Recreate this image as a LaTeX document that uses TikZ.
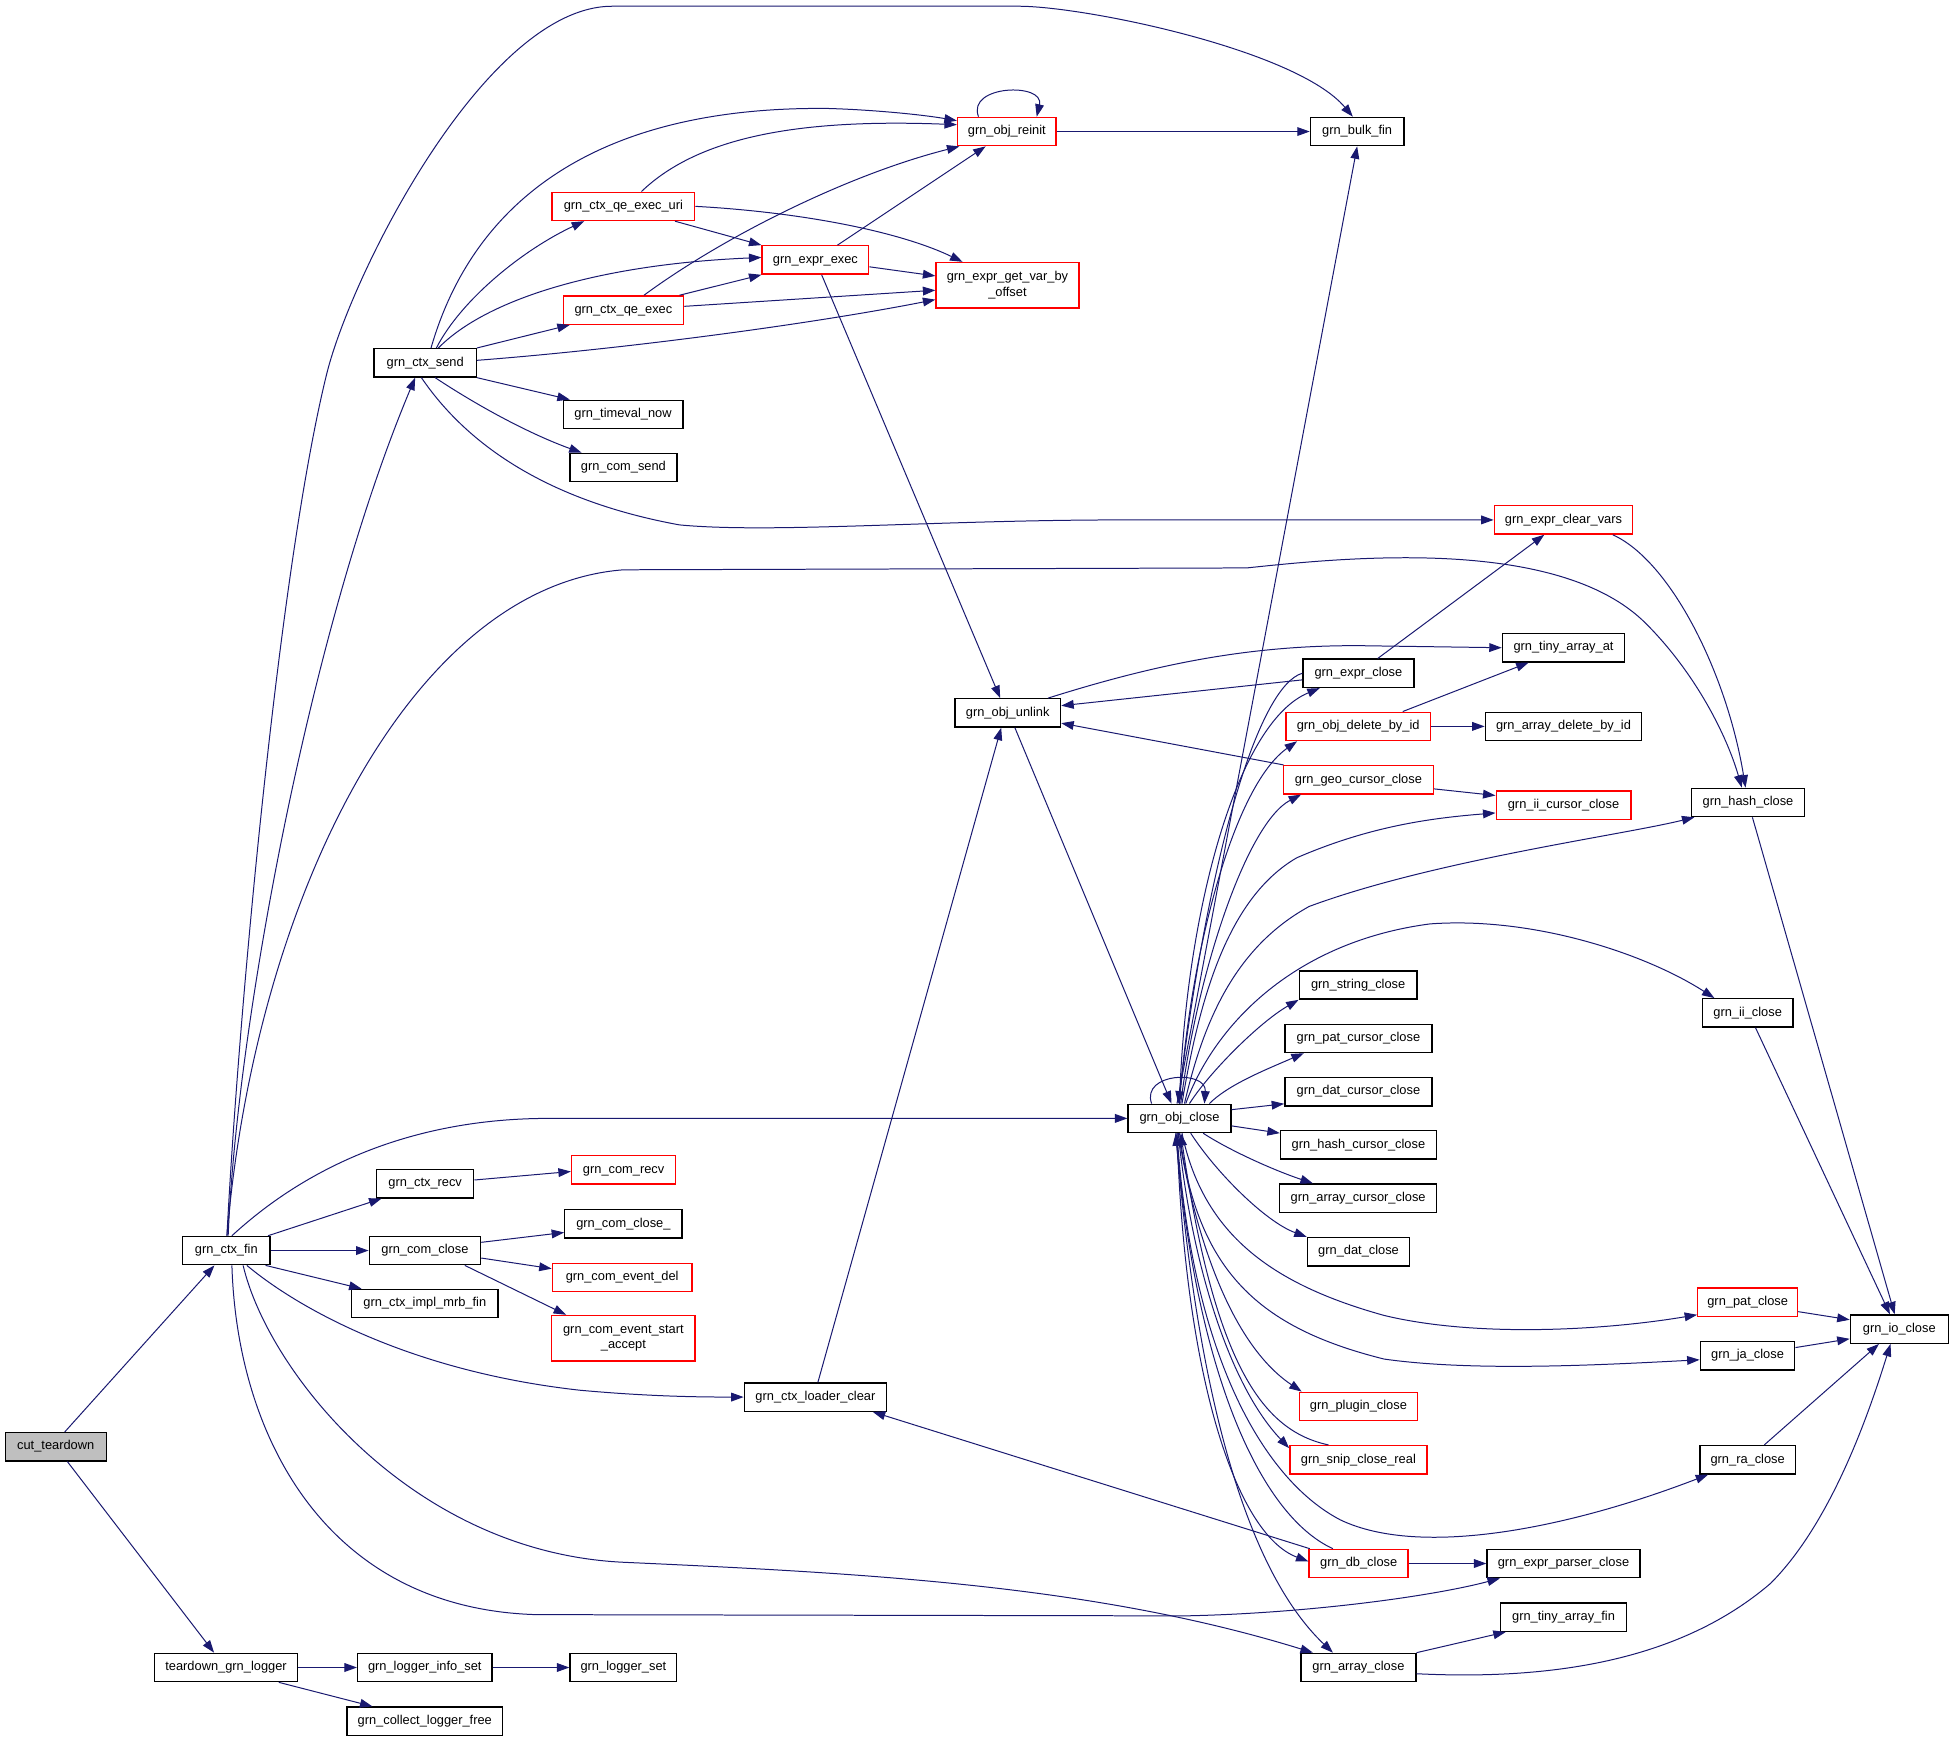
\documentclass[tikz,border=0pt]{standalone}
\usepackage{fontspec}
\setmainfont{Liberation Sans}
\usetikzlibrary{arrows.meta,calc}
\definecolor{edgec}{HTML}{191970}
\definecolor{cutfill}{HTML}{BFBFBF}
\begin{document}
\begin{tikzpicture}[x=1pt,y=-1pt,
  box/.style={draw=black, fill=white, line width=1.1pt, inner sep=0pt, minimum height=22.7pt,
    font=\fontsize{10.3}{12.6}\selectfont, text height=7.4pt, text depth=2.2pt},
  rbox/.style={box, draw=red},
  rtbox/.style={draw=red, fill=white, line width=1.1pt, inner sep=0pt, minimum height=36.5pt,
    align=center, font=\fontsize{10.3}{12.6}\selectfont},
  e/.style={draw=edgec, line width=0.8pt, -{Triangle[length=10pt,width=7pt]}}]
\fill[white] (0,0) rectangle (1568,1396.4);
\useasboundingbox (0,0) rectangle (1568,1396.4);
% nodes
\node[box, fill=cutfill, minimum width=81pt] (cut) at (44.7,1160.3) {cut\_teardown};
\node[box, minimum width=70pt] (ctxfin) at (181.5,1003) {grn\_ctx\_fin};
\node[box, minimum width=114.6pt] (tdlog) at (181.3,1337.4) {teardown\_grn\_logger};
\node[box, minimum width=107.7pt] (loginfo) at (340.7,1337.4) {grn\_logger\_info\_set};
\node[box, minimum width=85.6pt] (logset) at (500,1337.4) {grn\_logger\_set};
\node[box, minimum width=124.7pt] (collect) at (340.7,1380.5) {grn\_collect\_logger\_free};
\node[box, minimum width=82pt] (ctxsend) at (341,291) {grn\_ctx\_send};
\node[box, minimum width=96pt] (timeval) at (499.7,332.4) {grn\_timeval\_now};
\node[box, minimum width=85.7pt] (comsend) at (500,375) {grn\_com\_send};
\node[rbox, minimum width=114.5pt] (qeuri) at (500,165.5) {grn\_ctx\_qe\_exec\_uri};
\node[rbox, minimum width=96.5pt] (qeexec) at (500,248.7) {grn\_ctx\_qe\_exec};
\node[rbox, minimum width=85.5pt] (exprexec) at (654,208.5) {grn\_expr\_exec};
\node[rbox, minimum width=79pt] (reinit) at (807.5,105.5) {grn\_obj\_reinit};
\node[rtbox, minimum width=114.5pt] (getvar) at (808,228.8) {grn\_expr\_get\_var\_by\\\_offset};
\node[box, minimum width=75pt] (bulkfin) at (1088.5,105.5) {grn\_bulk\_fin};
\node[rbox, minimum width=111pt] (clearvars) at (1254,417) {grn\_expr\_clear\_vars};
\node[box, minimum width=84.8pt] (unlink) at (808.2,571.8) {grn\_obj\_unlink};
\node[box, minimum width=98pt] (tinyat) at (1254,519.5) {grn\_tiny\_array\_at};
\node[box, minimum width=89pt] (exprclose) at (1089.5,540) {grn\_expr\_close};
\node[rbox, minimum width=116pt] (delbyid) at (1089.3,582.6) {grn\_obj\_delete\_by\_id};
\node[box, minimum width=125.4pt] (arrdel) at (1254,582.6) {grn\_array\_delete\_by\_id};
\node[rbox, minimum width=120pt] (geocur) at (1089.5,625.4) {grn\_geo\_cursor\_close};
\node[rbox, minimum width=108pt] (iicur) at (1254,645.7) {grn\_ii\_cursor\_close};
\node[box, minimum width=91pt] (hashclose) at (1402,643.6) {grn\_hash\_close};
\node[box, minimum width=94.5pt] (strclose) at (1089.3,790) {grn\_string\_close};
\node[box, minimum width=72.6pt] (iiclose) at (1401.7,812.4) {grn\_ii\_close};
\node[box, minimum width=118pt] (patcur) at (1089.5,832.8) {grn\_pat\_cursor\_close};
\node[box, minimum width=118pt] (datcur) at (1089.5,875.6) {grn\_dat\_cursor\_close};
\node[box, minimum width=82.4pt] (objclose) at (946,897) {grn\_obj\_close};
\node[box, minimum width=125pt] (hashcur) at (1089.5,918.3) {grn\_hash\_cursor\_close};
\node[box, minimum width=126pt] (arrcur) at (1089.3,961) {grn\_array\_cursor\_close};
\node[box, minimum width=82pt] (datclose) at (1089.6,1003.9) {grn\_dat\_close};
\node[rbox, minimum width=80pt] (patclose) at (1401.7,1044.5) {grn\_pat\_close};
\node[box, minimum width=78.5pt] (ioclose) at (1523.3,1066) {grn\_io\_close};
\node[box, minimum width=75.8pt] (jaclose) at (1401.6,1087.3) {grn\_ja\_close};
\node[rbox, minimum width=95pt] (plugin) at (1089.5,1128) {grn\_plugin\_close};
\node[rbox, minimum width=110pt] (snip) at (1089.5,1170.8) {grn\_snip\_close\_real};
\node[box, minimum width=76.7pt] (raclose) at (1401.7,1170.8) {grn\_ra\_close};
\node[rbox, minimum width=79.4pt] (dbclose) at (1089.7,1254) {grn\_db\_close};
\node[box, minimum width=122.6pt] (parser) at (1254,1254) {grn\_expr\_parser\_close};
\node[box, minimum width=100.6pt] (tinyfin) at (1254,1297) {grn\_tiny\_array\_fin};
\node[box, minimum width=92.2pt] (arrclose) at (1089.5,1337.4) {grn\_array\_close};
\node[box, minimum width=78pt] (ctxrecv) at (341,949.4) {grn\_ctx\_recv};
\node[rbox, minimum width=83.6pt] (comrecv) at (500.2,938.3) {grn\_com\_recv};
\node[box, minimum width=89.3pt] (comclose) at (340.8,1003) {grn\_com\_close};
\node[box, minimum width=94pt] (comclose2) at (500,981.5) {grn\_com\_close\_};
\node[rbox, minimum width=112pt] (evdel) at (499,1024.5) {grn\_com\_event\_del};
\node[box, minimum width=117.6pt] (mrbfin) at (340.7,1045.5) {grn\_ctx\_impl\_mrb\_fin};
\node[rtbox, minimum width=115pt] (evaccept) at (500,1073.3) {grn\_com\_event\_start\\\_accept};
\node[box, minimum width=114pt] (loader) at (654,1120.5) {grn\_ctx\_loader\_clear};
% edges: cut_teardown
\draw[e] ($(cut.north)+(7.3,0)$) -- ($(ctxfin.south)+(-9.5,0)$);
\draw[e] ($(cut.south)+(9.3,0)$) -- ($(tdlog.north)+(-9.6,0)$);
\draw[e] (tdlog.east) -- (loginfo.west);
\draw[e] ($(tdlog.south)+(42.3,0)$) -- ($(collect.north)+(-42,0)$);
\draw[e] (loginfo.east) -- (logset.west);
% grn_ctx_fin
\draw[e] ($(ctxfin.north)+(1.5,0)$) .. controls (190,820) and (250,500) .. ($(ctxsend.south)+(-8,0)$);
\draw[e] ($(ctxfin.north)+(0.5,0)$) .. controls (192,800) and (225,450) .. (262,300) .. controls (282,219) and (390,5) .. (491,5) -- (817,5) .. controls (870,5) and (1040,40) .. ($(bulkfin.north)+(-3.5,0)$);
\draw[e] ($(ctxfin.north)+(0.5,0)$) .. controls (205,720) and (330,470) .. (500,457) -- (1000,455.5) .. controls (1080,447) and (1250,430) .. (1320,500) .. controls (1360,540) and (1385,590) .. ($(hashclose.north)+(-5,0)$);
\draw[e] ($(ctxfin.north)+(4.5,0)$) .. controls (220,960) and (300,897) .. (440,897) -- (objclose.west);
\draw[e] ($(ctxfin.north)+(33.5,0)$) -- ($(ctxrecv.south)+(-35,0)$);
\draw[e] (ctxfin.east) -- (comclose.west);
\draw[e] ($(ctxfin.south)+(31.5,0)$) -- ($(mrbfin.north)+(-50.7,0)$);
\draw[e] ($(ctxfin.south)+(16.5,0)$) .. controls (240,1050) and (330,1100) .. (465,1115) .. controls (520,1120) and (560,1120.5) .. (loader.west);
\draw[e] ($(ctxfin.south)+(4.5,0)$) .. controls (190,1150) and (260,1290) .. (430,1295) -- (950,1296) .. controls (1050,1294) and (1150,1280) .. ($(parser.south)+(-51,0)$);
\draw[e] ($(ctxfin.south)+(13.5,0)$) .. controls (215,1100) and (330,1245) .. (500,1253) .. controls (700,1262) and (880,1272) .. ($(arrclose.north)+(-36.5,0)$);
% grn_ctx_send
\draw[e] ($(ctxsend.north)+(4.7,0)$) .. controls (380,160) and (480,85) .. (664,87) .. controls (700,88) and (740,92) .. ($(reinit.west)+(0,-8.7)$);
\draw[e] ($(ctxsend.north)+(9,0)$) .. controls (370,240) and (420,200) .. ($(qeuri.south)+(-31.5,0)$);
\draw[e] ($(ctxsend.north)+(10.6,0)$) .. controls (390,240) and (480,212) .. ($(exprexec.west)+(0,-2)$);
\draw[e] (ctxsend.north east) -- ($(qeexec.south)+(-43,0)$);
\draw[e] ($(ctxsend.east)+(0,-2)$) .. controls (500,280) and (650,260) .. ($(getvar.west)+(0,11.5)$);
\draw[e] (ctxsend.south east) -- ($(timeval.north)+(-42.7,0)$);
\draw[e] ($(ctxsend.south)+(8,0)$) .. controls (390,330) and (430,350) .. ($(comsend.north)+(-33.5,0)$);
\draw[e] ($(ctxsend.south)+(-3,0)$) .. controls (370,350) and (430,400) .. (545,421) .. controls (620,428) and (750,417) .. (900,417) -- (clearvars.west);
% qe exec uri / qe exec / expr exec
\draw[e] ($(qeuri.north)+(14.5,0)$) .. controls (560,110) and (640,95) .. ($(reinit.west)+(0,-5.5)$);
\draw[e] ($(qeuri.south)+(41.3,0)$) -- (exprexec.north west);
\draw[e] (qeuri.east) .. controls (640,170) and (720,185) .. ($(getvar.north)+(-36,0)$);
\draw[e] ($(qeexec.north)+(16.5,0)$) .. controls (580,190) and (680,140) .. ($(reinit.south)+(-38,0)$);
\draw[e] ($(qeexec.north)+(45,0)$) -- (exprexec.south west);
\draw[e] ($(qeexec.east)+(0,-3)$) -- ($(getvar.west)+(0,4)$);
\draw[e] ($(exprexec.north)+(17.7,0)$) -- ($(reinit.south)+(-17,0)$);
\draw[e] ($(exprexec.east)+(0,5.5)$) -- ($(getvar.west)+(0,-7.5)$);
\draw[e] ($(exprexec.south)+(5,0)$) -- ($(unlink.north)+(-6,0)$);
% grn_obj_reinit
\draw[e] ($(reinit.north)+(-22.7,0)$) .. controls (775,68) and (838,66) .. ($(reinit.north)+(24,0)$);
\draw[e] (reinit.east) -- (bulkfin.west);
% grn_obj_unlink
\draw[e] ($(unlink.north)+(32.4,0)$) .. controls (920,535) and (1000,516) .. (1100,518) -- (tinyat.west);
\draw[e] ($(unlink.south)+(5.8,0)$) -- ($(objclose.north)+(-6.4,0)$);
\draw[e] ($(exprclose.west)+(0,5.3)$) -- ($(unlink.east)+(0,-5.8)$);
\draw[e] ($(geocur.north)+(-60,0)$) -- ($(unlink.east)+(0,8.2)$);
\draw[e] ($(loader.north)+(2,0)$) -- ($(unlink.south)+(-5.2,0)$);
% grn_expr_close
\draw[e] ($(exprclose.north)+(15.5,0)$) -- ($(clearvars.south)+(-15.4,0)$);
\draw[e] (exprclose.west) .. controls (1010,550) and (970,680) .. ($(objclose.north)+(-1,0)$);
% grn_obj_close
\draw[e] ($(objclose.north)+(-22.4,0)$) .. controls (915,860) and (968,858) .. ($(objclose.north)+(20,0)$);
\draw[e] (objclose.north) .. controls (950,740) and (990,580) .. ($(exprclose.south)+(-31,0)$);
\draw[e] ($(objclose.north)+(-2,0)$) -- (bulkfin.south);
\draw[e] (objclose.north) .. controls (955,760) and (990,630) .. ($(delbyid.south)+(-49,0)$);
\draw[e] ($(objclose.north)+(1,0)$) .. controls (960,780) and (1000,660) .. ($(geocur.south)+(-46,0)$);
\draw[e] ($(objclose.north)+(2,0)$) .. controls (962,800) and (985,720) .. (1040,688) .. controls (1100,662) and (1150,656) .. ($(iicur.west)+(0,6.3)$);
\draw[e] ($(objclose.north)+(4,0)$) .. controls (965,820) and (990,760) .. (1050,727) .. controls (1150,690) and (1300,670) .. ($(hashclose.south)+(-43,0)$);
\draw[e] ($(objclose.north)+(5,0)$) .. controls (975,820) and (1040,755) .. (1147,741) .. controls (1230,735) and (1320,765) .. ($(iiclose.north)+(-26.7,0)$);
\draw[e] ($(objclose.north)+(8,0)$) .. controls (970,860) and (1010,820) .. (strclose.south west);
\draw[e] ($(objclose.north)+(24,0)$) .. controls (985,870) and (1015,858) .. ($(patcur.south)+(-43.8,0)$);
\draw[e] ($(objclose.east)+(0,-7)$) -- ($(datcur.west)+(0,9.7)$);
\draw[e] ($(objclose.east)+(0,6)$) -- ($(hashcur.west)+(0,-9.5)$);
\draw[e] ($(objclose.south)+(19,0)$) .. controls (985,922) and (1020,938) .. ($(arrcur.north)+(-36.3,0)$);
\draw[e] ($(objclose.south)+(9,0)$) .. controls (975,940) and (1015,980) .. (datclose.north west);
\draw[e] ($(objclose.south)+(2,0)$) .. controls (965,990) and (1020,1030) .. (1110,1055) .. controls (1180,1072) and (1280,1068) .. ($(patclose.west)+(0,10)$);
\draw[e] (objclose.south) .. controls (960,1020) and (1010,1065) .. (1110,1090) .. controls (1180,1100) and (1280,1095) .. ($(jaclose.west)+(0,3.3)$);
\draw[e] ($(objclose.south)+(-1,0)$) .. controls (960,1000) and (990,1080) .. ($(plugin.north)+(-45.5,0)$);
\draw[e] ($(objclose.south)+(-1,0)$) .. controls (955,1010) and (985,1110) .. ($(snip.west)+(0,-9.3)$);
\draw[e] ($(snip.north)+(-24,0)$) .. controls (1015,1148) and (975,1100) .. ($(objclose.south)+(1,0)$);
\draw[e] ($(objclose.south)+(-2,0)$) .. controls (955,1080) and (1010,1185) .. (1075,1219) .. controls (1140,1250) and (1260,1225) .. ($(raclose.south)+(-31.7,0)$);
\draw[e] ($(objclose.south)+(-2,0)$) .. controls (950,1100) and (990,1230) .. ($(dbclose.west)+(0,-1.6)$);
\draw[e] ($(dbclose.north)+(-20.7,0)$) .. controls (1010,1215) and (960,1100) .. ($(objclose.south)+(-3,0)$);
\draw[e] ($(objclose.south)+(-3,0)$) .. controls (960,1120) and (1000,1260) .. ($(arrclose.north)+(-20.5,0)$);
% right side
\draw[e] ($(delbyid.north)+(35.7,0)$) -- ($(tinyat.south)+(-28,0)$);
\draw[e] (delbyid.east) -- (arrdel.west);
\draw[e] ($(geocur.east)+(0,7.3)$) -- ($(iicur.west)+(0,-7.7)$);
\draw[e] (dbclose.east) -- (parser.west);
\draw[e] ($(dbclose.north)+(-39.2,0)$) -- ($(loader.south)+(46,0)$);
\draw[e] (arrclose.north east) -- ($(tinyfin.south)+(-46.3,0)$);
\draw[e] ($(arrclose.east)+(0,5)$) .. controls (1250,1348) and (1350,1330) .. (1420,1270) .. controls (1470,1220) and (1500,1130) .. ($(ioclose.south)+(-7,0)$);
\draw[e] ($(raclose.north)+(13.3,0)$) -- ($(ioclose.south)+(-16.3,0)$);
\draw[e] ($(jaclose.east)+(0,-6.5)$) -- ($(ioclose.west)+(0,7.8)$);
\draw[e] ($(patclose.east)+(0,7.5)$) -- ($(ioclose.west)+(0,-7.5)$);
\draw[e] ($(iiclose.south)+(6.3,0)$) -- ($(ioclose.north)+(-7.5,0)$);
\draw[e] ($(hashclose.south)+(3.5,0)$) -- ($(ioclose.north)+(-3.7,0)$);
\draw[e] ($(clearvars.south)+(39.5,0)$) .. controls (1340,450) and (1385,540) .. ($(hashclose.north)+(-2,0)$);
% com
\draw[e] ($(ctxrecv.east)+(0,-3)$) -- ($(comrecv.west)+(0,1.3)$);
\draw[e] ($(comclose.east)+(0,-6.6)$) -- ($(comclose2.west)+(0,7)$);
\draw[e] ($(comclose.east)+(0,6)$) -- ($(evdel.west)+(0,-7)$);
\draw[e] ($(comclose.south)+(32,0)$) -- ($(evaccept.north)+(-46,0)$);
\end{tikzpicture}
\end{document}
